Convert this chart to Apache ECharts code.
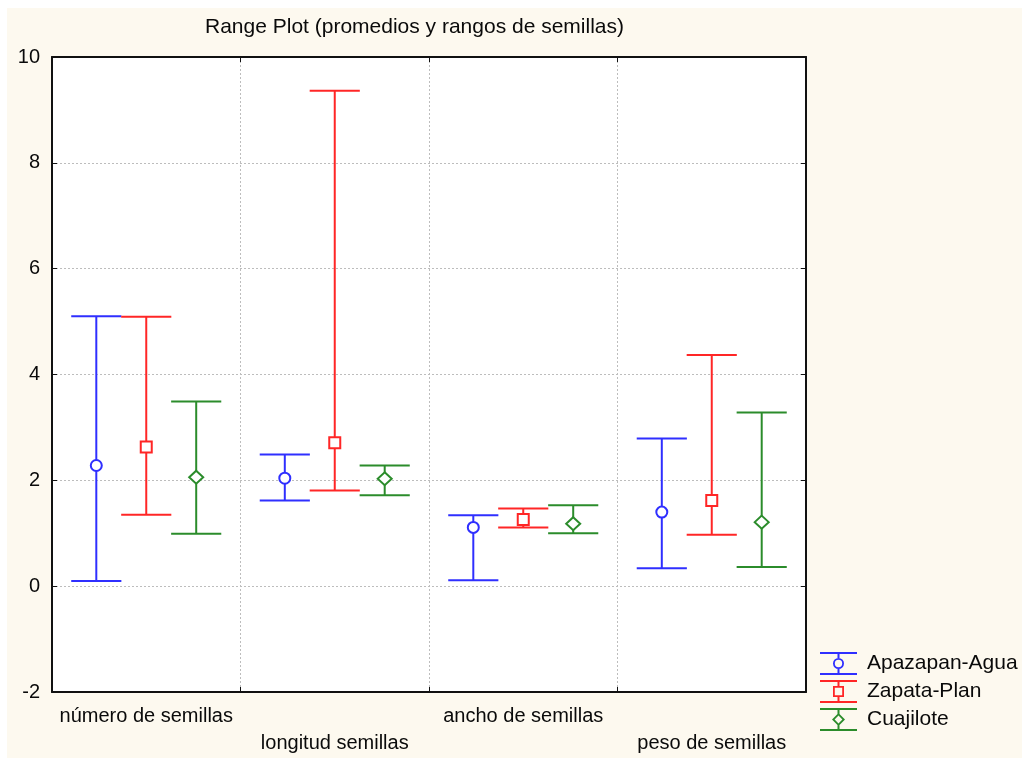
<!DOCTYPE html>
<html>
<head>
<meta charset="utf-8">
<script src="https://cdn.jsdelivr.net/npm/echarts@6/dist/echarts.min.js"></script>
<style>
html,body{margin:0;padding:0;background:#ffffff;}
#chart{width:1022px;height:758px;}
</style>
</head>
<body>
<div id="chart"></div>
<script>
const categories = ['número de semillas', 'longitud semillas', 'ancho de semillas', 'peso de semillas'];
const seriesNames = ['Apazapan-Agua', 'Zapata-Plan', 'Cuajilote'];

const apazapanLow  = [0.10, 1.62, 0.11, 0.34];
const apazapanHigh = [5.10, 2.49, 1.34, 2.79];
const apazapanMean = [2.28, 2.04, 1.11, 1.40];

const zapataLow  = [1.35, 1.81, 1.11, 0.97];
const zapataHigh = [5.09, 9.36, 1.47, 4.37];
const zapataMean = [2.63, 2.71, 1.26, 1.62];

const cuajiloteLow  = [0.99, 1.72, 1.00, 0.36];
const cuajiloteHigh = [3.49, 2.28, 1.53, 3.28];
const cuajiloteMean = [2.06, 2.03, 1.18, 1.21];

const yMin = -2, yMax = 10, yStep = 2;

const colors = ['#2f2fff', '#ff2626', '#2b8c2b'];
const FONT = '"Liberation Sans", Arial, Helvetica, sans-serif';

function rows(low, high, mean) {
  return categories.map((c, i) => [i, low[i], high[i], mean[i]]);
}

function makeRender(offsetFrac, marker, color) {
  return function (params, api) {
    const band = api.size([1, 0])[0];
    const idx = api.value(0);
    const cx = api.coord([idx, 0])[0] + band * offsetFrac;
    const yLow = api.coord([idx, api.value(1)])[1];
    const yHigh = api.coord([idx, api.value(2)])[1];
    const yMean = api.coord([idx, api.value(3)])[1];
    const hw = band * 0.133;
    const ls = { stroke: color, lineWidth: 2, fill: null };
    const ms = { stroke: color, lineWidth: 2, fill: '#ffffff' };
    let m;
    if (marker === 'circle') {
      m = { type: 'circle', shape: { cx: cx, cy: yMean, r: 5.5 }, style: ms };
    } else if (marker === 'rect') {
      m = { type: 'rect', shape: { x: cx - 5.5, y: yMean - 5.5, width: 11, height: 11 }, style: ms };
    } else {
      m = { type: 'polygon', shape: { points: [[cx, yMean - 6.5], [cx + 7, yMean], [cx, yMean + 6.5], [cx - 7, yMean]] }, style: ms };
    }
    return {
      type: 'group',
      children: [
        { type: 'line', shape: { x1: cx - hw, y1: yHigh, x2: cx + hw, y2: yHigh }, style: ls },
        { type: 'line', shape: { x1: cx - hw, y1: yLow, x2: cx + hw, y2: yLow }, style: ls },
        { type: 'line', shape: { x1: cx, y1: yHigh, x2: cx, y2: yLow }, style: ls },
        m
      ]
    };
  };
}

const capsPath = 'M0,0 H37 V2 H0 Z M0,21 H37 V23 H0 Z M17.5,2 H19.5 V6 H17.5 Z M17.5,17 H19.5 V21 H17.5 Z ';
const iconCircle = 'path://' + capsPath +
  'M13,11.5 A5.5,5.5 0 1,0 24,11.5 A5.5,5.5 0 1,0 13,11.5 Z M14.8,11.5 A3.7,3.7 0 1,1 22.2,11.5 A3.7,3.7 0 1,1 14.8,11.5 Z';
const iconRect = 'path://' + capsPath +
  'M13,6 H24 V17 H13 Z M14.8,7.8 V15.2 H22.2 V7.8 Z';
const iconDiamond = 'path://' + capsPath +
  'M18.5,5 L25,11.5 L18.5,18 L12,11.5 Z M18.5,7.6 L14.6,11.5 L18.5,15.4 L22.4,11.5 Z';

const chart = echarts.init(document.getElementById('chart'), null, { renderer: 'canvas' });

const option = {
  backgroundColor: 'transparent',
  animation: false,
  textStyle: { fontFamily: FONT },
  graphic: [{
    type: 'rect', z: -100, zlevel: 0, silent: true,
    shape: { x: 7, y: 8, width: 1015, height: 750 },
    style: { fill: '#fdf9ef' }
  }],
  title: {
    text: 'Range Plot (promedios y rangos de semillas)',
    left: 205, top: 17,
    padding: 0,
    textStyle: { fontFamily: FONT, fontSize: 21, fontWeight: 'normal', color: '#0a0a0a' }
  },
  legend: {
    orient: 'vertical',
    left: 820, top: 652,
    padding: 0,
    itemWidth: 37, itemHeight: 23,
    itemGap: 5,
    selectedMode: false,
    textStyle: { fontFamily: FONT, fontSize: 21, color: '#0a0a0a', padding: [0, 0, 0, 5] },
    data: [
      { name: seriesNames[0], icon: iconCircle },
      { name: seriesNames[1], icon: iconRect },
      { name: seriesNames[2], icon: iconDiamond }
    ]
  },
  grid: {
    left: 52, top: 57, right: 216, bottom: 66,
    show: true, backgroundColor: '#ffffff', borderWidth: 0
  },
  xAxis: [{
    type: 'category',
    data: categories,
    position: 'bottom',
    axisLine: { show: true, onZero: false, lineStyle: { color: '#111', width: 2 } },
    axisTick: { show: true, inside: true, length: 5, interval: 0, lineStyle: { color: '#111', width: 1 } },
    splitLine: { show: true, interval: 0, lineStyle: { color: '#bdbdbd', type: [2, 2], width: 1 } },
    axisLabel: {
      interval: 0, margin: 11, color: '#0a0a0a', fontFamily: FONT, fontSize: 20, lineHeight: 27,
      formatter: function (v, i) { return i % 2 === 1 ? '\n' + v : v; }
    }
  }, {
    type: 'category',
    data: categories,
    position: 'top',
    axisLine: { show: true, onZero: false, lineStyle: { color: '#111', width: 2 } },
    axisTick: { show: true, inside: true, length: 5, interval: 0, lineStyle: { color: '#111', width: 1 } },
    axisLabel: { show: false },
    splitLine: { show: false }
  }],
  yAxis: [{
    type: 'value',
    min: yMin, max: yMax, interval: yStep,
    position: 'left',
    axisLine: { show: true, onZero: false, lineStyle: { color: '#111', width: 2 } },
    axisTick: { show: true, inside: true, length: 5, lineStyle: { color: '#111', width: 1 } },
    splitLine: { show: true, lineStyle: { color: '#bdbdbd', type: [2, 2], width: 1 } },
    axisLabel: { margin: 12, color: '#0a0a0a', fontFamily: FONT, fontSize: 20 }
  }, {
    type: 'value',
    min: yMin, max: yMax, interval: yStep,
    position: 'right',
    axisLine: { show: true, onZero: false, lineStyle: { color: '#111', width: 2 } },
    axisTick: { show: true, inside: true, length: 5, lineStyle: { color: '#111', width: 1 } },
    splitLine: { show: false },
    axisLabel: { show: false }
  }],
  series: [
    {
      name: seriesNames[0], type: 'custom', xAxisIndex: 0, yAxisIndex: 0,
      itemStyle: { color: colors[0] },
      renderItem: makeRender(-0.265, 'circle', colors[0]),
      encode: { x: 0, y: [1, 2, 3] },
      data: rows(apazapanLow, apazapanHigh, apazapanMean)
    },
    {
      name: seriesNames[1], type: 'custom', xAxisIndex: 0, yAxisIndex: 0,
      itemStyle: { color: colors[1] },
      renderItem: makeRender(0.0, 'rect', colors[1]),
      encode: { x: 0, y: [1, 2, 3] },
      data: rows(zapataLow, zapataHigh, zapataMean)
    },
    {
      name: seriesNames[2], type: 'custom', xAxisIndex: 0, yAxisIndex: 0,
      itemStyle: { color: colors[2] },
      renderItem: makeRender(0.265, 'diamond', colors[2]),
      encode: { x: 0, y: [1, 2, 3] },
      data: rows(cuajiloteLow, cuajiloteHigh, cuajiloteMean)
    }
  ]
};

chart.setOption(option);
</script>
</body>
</html>
